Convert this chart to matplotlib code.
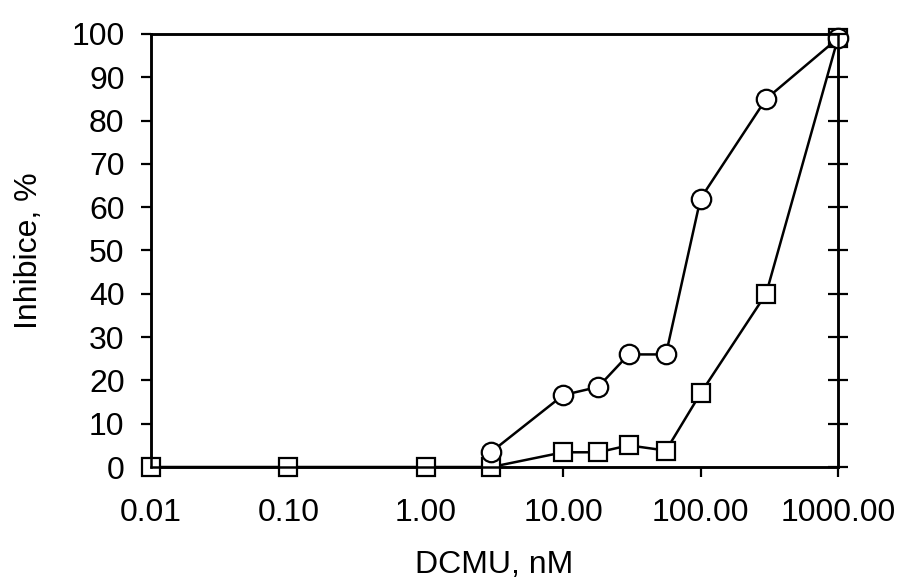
import numpy as np
import matplotlib.pyplot as plt
from matplotlib.ticker import FixedLocator, FixedFormatter, NullLocator

plt.rcParams['font.family'] = ['Liberation Sans', 'DejaVu Sans']

# DCMU concentration (nM) and inhibition (%)
circle_x = [3, 10, 18, 30, 56, 100, 300, 1000]
circle_y = [3.5, 16.6, 18.5, 26, 26, 62, 85, 99]

square_x = [0.01, 0.1, 1, 3, 10, 18, 30, 56, 100, 300, 1000]
square_y = [0, 0, 0, 0, 3.4, 3.4, 5, 3.8, 17, 40, 99]

x_ticks = [0.01, 0.1, 1, 10, 100, 1000]
x_labels = ['0.01', '0.10', '1.00', '10.00', '100.00', '1000.00']
y_ticks = list(range(0, 101, 10))

fig = plt.figure(figsize=(9.01, 5.81), dpi=100)
ax = fig.add_axes([0.1676, 0.1962, 0.7624, 0.7453])

ax.plot(square_x, square_y, color='black', lw=1.8, marker='s', ms=13,
        mfc='white', mec='black', mew=1.6, clip_on=False, zorder=3)
ax.plot(circle_x, circle_y, color='black', lw=1.8, marker='o', ms=14,
        mfc='white', mec='black', mew=1.6, clip_on=False, zorder=4)

ax.set_xscale('log')
ax.set_xlim(0.01, 1000)
ax.set_ylim(0, 100)
ax.xaxis.set_major_locator(FixedLocator(x_ticks))
ax.xaxis.set_major_formatter(FixedFormatter(x_labels))
ax.xaxis.set_minor_locator(NullLocator())
ax.set_yticks(y_ticks)

ax.tick_params(axis='both', direction='out', length=7, width=1.6,
               labelsize=23)
ax.tick_params(axis='x', pad=15)
ax.tick_params(axis='y', pad=12)
for s in ax.spines.values():
    s.set_linewidth(1.8)

ax2 = ax.twinx()
ax2.set_ylim(0, 100)
ax2.set_yticks(y_ticks)
ax2.tick_params(axis='y', direction='inout', length=14, width=1.6,
                labelright=False)
for s in ax2.spines.values():
    s.set_linewidth(1.8)

ax.set_xlabel('DCMU, nM', fontsize=23, labelpad=16)
ax.set_ylabel('Inhibice, %', fontsize=23, labelpad=20)

fig.savefig('out.png', dpi=100)
